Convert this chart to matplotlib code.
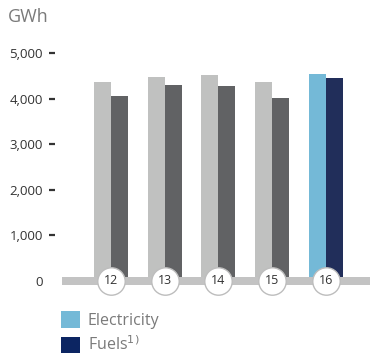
import matplotlib

matplotlib.use("Agg")

import matplotlib.pyplot as plt
import numpy as np
from matplotlib.patches import Patch

years = ["12", "13", "14", "15", "16"]
electricity = [4364, 4474, 4518, 4364, 4539]
fuels = [4057, 4298, 4276, 4013, 4452]
yticks = [0, 1000, 2000, 3000, 4000, 5000]
ytick_labels = ["0", "1,000", "2,000", "3,000", "4,000", "5,000"]

plt.rcParams["font.family"] = ["Open Sans", "DejaVu Sans"]

W, H = 370, 358
fig = plt.figure(figsize=(W / 100, H / 100), dpi=100)

# axes placed in pixel terms: zero line at y=281, 5000 at y=53
px_per_unit = (281 - 53) / 5000
ymax = 5300
ax = fig.add_axes([62 / W, (H - 281) / H, 308 / W, ymax * px_per_unit / H])

x = np.arange(len(years))
width = 0.316
light_cols = ["#c0c1c0"] * 4 + ["#74b9d7"]
dark_cols = ["#616264"] * 4 + ["#212e5a"]
ax.bar(x - width / 2, electricity, width, color=light_cols, zorder=1)
ax.bar(x + width / 2, fuels, width, color=dark_cols, zorder=1)

ax.set_xlim(-0.912, 4.82)
ax.set_ylim(0, ymax)

# grey base band with year badges
ax.axhspan(-85, 85, color="#c3c3c3", zorder=2, clip_on=False, lw=0)
ax.scatter(x, np.zeros(len(x)), s=390, facecolor="white", edgecolor="#bdbdbd",
           linewidth=1.0, zorder=3, clip_on=False)
for xi, yr in zip(x, years):
    ax.text(xi, 0, yr, ha="center", va="center", fontsize=9, color="#333333", zorder=4)

for s in ax.spines.values():
    s.set_visible(False)
ax.spines["left"].set_position(("outward", 5))
ax.set_xticks([])
ax.set_yticks(yticks)
ax.set_yticklabels(ytick_labels)
ax.tick_params(axis="y", length=4.3, width=1.6, color="#333333", pad=4.5,
               labelsize=9.5, labelcolor="#333333")
ax.yaxis.get_major_ticks()[0].tick1line.set_visible(False)

fig.text(8 / W, 1 - 17 / H, "GWh", fontsize=13, color="#7a7a7a", va="center", ha="left")

handles = [Patch(facecolor="#74b9d7"), Patch(facecolor="#0c2562")]
fig.legend(handles, ["Electricity", "Fuels$^{1)}$"], loc="upper left",
           bbox_to_anchor=(58 / W, 1 - 308 / H), frameon=False, fontsize=11.5,
           labelcolor="#7a7a7a", handlelength=1.2, handleheight=1.2,
           handletextpad=0.45, labelspacing=0.42, borderaxespad=0, borderpad=0.2)

fig.savefig("out.png", dpi=100)
